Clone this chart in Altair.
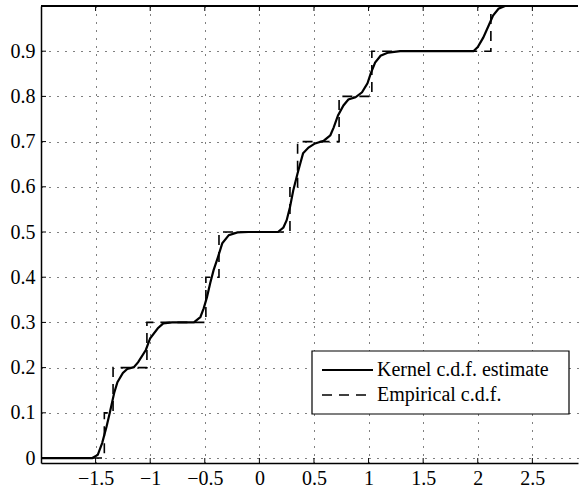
import altair as alt
import pandas as pd

# ---- data ----
kernel_x = [-2.0, -1.53, -1.48, -1.44, -1.40, -1.37, -1.33, -1.30, -1.25, -1.21, -1.15, -1.11,
            -1.04, -1.00, -0.93, -0.88, -0.80, -0.60, -0.54, -0.51, -0.48, -0.45, -0.42, -0.38,
            -0.34, -0.28, -0.20, -0.10, 0.17, 0.22, 0.25, 0.28, 0.31, 0.35, 0.375, 0.40, 0.45,
            0.51, 0.59, 0.65, 0.68, 0.72, 0.77, 0.815, 0.88, 0.94, 0.99, 1.02, 1.06, 1.11, 1.18,
            1.29, 1.96, 2.00, 2.05, 2.10, 2.14, 2.19, 2.25, 2.918]
kernel_y = [0.0, 0.0, 0.007, 0.033, 0.069, 0.100, 0.144, 0.168, 0.188, 0.197, 0.201, 0.212,
            0.239, 0.265, 0.287, 0.298, 0.300, 0.300, 0.312, 0.331, 0.356, 0.387, 0.415, 0.444,
            0.475, 0.493, 0.499, 0.500, 0.500, 0.510, 0.526, 0.555, 0.592, 0.630, 0.652, 0.674, 0.687,
            0.696, 0.702, 0.714, 0.731, 0.758, 0.780, 0.793, 0.798, 0.809, 0.829, 0.851, 0.875, 0.890, 0.897,
            0.900, 0.900, 0.909, 0.930, 0.957, 0.979, 0.994, 1.0, 1.0]
sample_x = [-1.42, -1.34, -1.03, -0.49, -0.37, 0.28, 0.35, 0.73, 1.03, 2.12]
ecdf_y = [0.1, 0.2, 0.3, 0.4, 0.5, 0.6, 0.7, 0.8, 0.9, 1.0]
x_ticks = [-1.5, -1.0, -0.5, 0.0, 0.5, 1.0, 1.5, 2.0, 2.5]
y_ticks = [0.0, 0.1, 0.2, 0.3, 0.4, 0.5, 0.6, 0.7, 0.8, 0.9]
series = ["Kernel c.d.f. estimate", "Empirical c.d.f."]
x_min, x_max = -2.0, 2.918
y_min, y_max = -0.011, 1.0

W, H = 537, 457
FONT = "Liberation Serif, Times New Roman, Times, serif"
FS = 20

kern = pd.DataFrame({"x": kernel_x, "y": kernel_y, "s": series[0]})
emp = pd.DataFrame({"x": [x_min] + sample_x + [x_max],
                    "y": [0.0] + ecdf_y + [ecdf_y[-1]],
                    "s": series[1]})
xt = pd.DataFrame({"v": x_ticks})
yt = pd.DataFrame({"v": y_ticks})
leg = pd.DataFrame({"s": series})

xs = alt.Scale(domain=[x_min, x_max], nice=False, zero=False)
ys = alt.Scale(domain=[y_min, y_max], nice=False, zero=False)

x_axis = alt.Axis(values=x_ticks, grid=True, gridDash=[1, 7], gridColor="black", gridWidth=1,
                  ticks=False, domain=True, domainColor="black", domainWidth=1.5,
                  labelFont=FONT, labelFontSize=FS, labelColor="black", labelPadding=5,
                  labelFlush=False, labelOverlap=False, title=None, format=".1~f")
y_axis = alt.Axis(values=y_ticks, grid=True, gridDash=[1, 7], gridColor="black", gridWidth=1,
                  ticks=False, domain=True, domainColor="black", domainWidth=1.5,
                  labelFont=FONT, labelFontSize=FS, labelColor="black", labelPadding=6,
                  labelFlush=False, labelOverlap=False, title=None, format=".1~f")

kernel_line = alt.Chart(kern).mark_line(color="black", strokeWidth=2.2, clip=True).encode(
    x=alt.X("x:Q", scale=xs, axis=x_axis),
    y=alt.Y("y:Q", scale=ys, axis=y_axis),
    order="x:Q",
)
emp_line = alt.Chart(emp).mark_line(color="black", strokeWidth=1.6, strokeDash=[10, 7],
                                    interpolate="step-after", clip=True).encode(
    x=alt.X("x:Q", scale=xs),
    y=alt.Y("y:Q", scale=ys),
    order="x:Q",
)

top_border = alt.Chart(xt).mark_rule(color="black", strokeWidth=1.5).encode(
    x=alt.value(0), x2=alt.value(W), y=alt.value(0))
xtick_bottom = alt.Chart(xt).mark_rule(color="black", strokeWidth=1).encode(
    x=alt.X("v:Q", scale=xs), y=alt.value(H), y2=alt.value(H - 5))
xtick_top = alt.Chart(xt).mark_rule(color="black", strokeWidth=1).encode(
    x=alt.X("v:Q", scale=xs), y=alt.value(0), y2=alt.value(5))
ytick_left = alt.Chart(yt).mark_rule(color="black", strokeWidth=1).encode(
    y=alt.Y("v:Q", scale=ys), x=alt.value(0), x2=alt.value(5))

# legend box (manual, MATLAB style)
LX0, LX1, LY0, LY1 = 271, 528, 345, 408
leg_box = alt.Chart(leg.head(1)).mark_rect(fill="white", stroke="black", strokeWidth=1.2).encode(
    x=alt.value(LX0), x2=alt.value(LX1), y=alt.value(LY0), y2=alt.value(LY1))
row_y = [LY0 + 19, LY0 + 44]
leg_k_line = alt.Chart(leg.head(1)).mark_rule(color="black", strokeWidth=2).encode(
    x=alt.value(LX0 + 10), x2=alt.value(LX0 + 61), y=alt.value(row_y[0]))
leg_e_line = alt.Chart(leg.head(1)).mark_rule(color="black", strokeWidth=1.6, strokeDash=[10, 7]).encode(
    x=alt.value(LX0 + 10), x2=alt.value(LX0 + 61), y=alt.value(row_y[1]))
leg_k_text = alt.Chart(leg.iloc[[0]]).mark_text(
    font=FONT, fontSize=FS, color="black", align="left", baseline="middle").encode(
    x=alt.value(LX0 + 65), y=alt.value(row_y[0]), text="s:N")
leg_e_text = alt.Chart(leg.iloc[[1]]).mark_text(
    font=FONT, fontSize=FS, color="black", align="left", baseline="middle").encode(
    x=alt.value(LX0 + 65), y=alt.value(row_y[1]), text="s:N")

chart = alt.layer(kernel_line, emp_line, xtick_bottom, xtick_top, ytick_left, top_border,
                  leg_box, leg_k_line, leg_e_line, leg_k_text, leg_e_text).properties(
    width=W, height=H,
    padding={"left": 41, "top": 6, "right": 1, "bottom": 30},
    autosize=alt.AutoSizeParams(type="none"),
    background="white",
).configure_view(stroke=None)

chart.save("out.html", embed_options={"renderer": "svg", "actions": False})
